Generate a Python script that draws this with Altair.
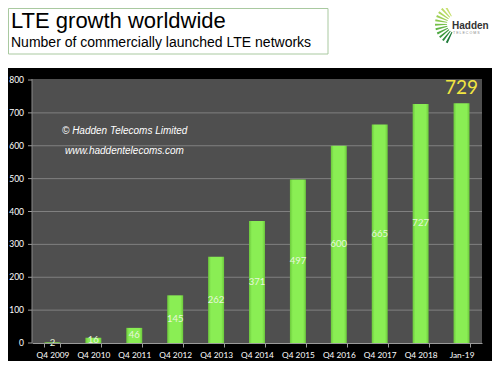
import altair as alt
import pandas as pd

categories = ["Q4 2009", "Q4 2010", "Q4 2011", "Q4 2012", "Q4 2013", "Q4 2014",
              "Q4 2015", "Q4 2016", "Q4 2017", "Q4 2018", "Jan-19"]
values = [2, 16, 46, 145, 262, 371, 497, 600, 665, 727, 729]
bar_labels = ["2", "16", "46", "145", "262", "371", "497", "600", "665", "727", ""]
yticks = [0, 100, 200, 300, 400, 500, 600, 700, 800]
grid_lines = [100, 200, 300, 400, 500, 600, 700]

title = "LTE growth worldwide"
subtitle = "Number of commercially launched LTE networks"
watermark1 = "© Hadden Telecoms Limited"
watermark2 = "www.haddentelecoms.com"

df = pd.DataFrame({"cat": categories, "v": values, "lab": bar_labels})
df["mid"] = df["v"] / 2
grid_df = pd.DataFrame({"g": grid_lines})
ytick_df = pd.DataFrame({"t": yticks})

one = alt.Data(values=[{"a": 1}])

xenc = alt.X("cat:N", sort=categories, title=None,
             scale=alt.Scale(paddingInner=0.61, paddingOuter=0.305),
             axis=alt.Axis(labelAngle=0, labelColor="white", labelFont="Lato",
                           labelFontSize=8.3, labelPadding=3, tickBand="extent",
                           tickColor="#9a9a9a", tickSize=4, domainColor="#9a9a9a",
                           zindex=1))
yscale = alt.Scale(domain=[0, 800], nice=False)

black = alt.Chart(one).mark_rect(color="black").encode(
    x=alt.value(-24), x2=alt.value(461), y=alt.value(-12), y2=alt.value(290))
gray = alt.Chart(one).mark_rect(color="#4f4f4f").encode(
    x=alt.value(0), x2=alt.value(450), y=alt.value(-1), y2=alt.value(263))

grid = alt.Chart(grid_df).mark_rule(color="#808080", strokeWidth=1).encode(
    x=alt.value(0), x2=alt.value(450),
    y=alt.Y("g:Q", scale=yscale, axis=None))

ydomain = alt.Chart(one).mark_rule(color="#8a8a8a", strokeWidth=1).encode(
    x=alt.value(0), y=alt.value(-1), y2=alt.value(263))
yticks_marks = alt.Chart(ytick_df).mark_rule(color="#9a9a9a", strokeWidth=1).encode(
    x=alt.value(-4), x2=alt.value(0),
    y=alt.Y("t:Q", scale=yscale, axis=None))
ylabels = alt.Chart(ytick_df).mark_text(color="white", font="Lato", fontSize=8.5,
                                        align="right", baseline="middle").encode(
    x=alt.value(-8),
    y=alt.Y("t:Q", scale=yscale, axis=None),
    text="t:Q")

grad = {"gradient": "linear", "x1": 0, "x2": 1, "y1": 0, "y2": 0,
        "stops": [{"offset": 0, "color": "#6cc83c"},
                  {"offset": 0.18, "color": "#8aee54"},
                  {"offset": 0.82, "color": "#8aee54"},
                  {"offset": 1, "color": "#6cc83c"}]}

bars = alt.Chart(df).mark_bar(color=grad).encode(
    x=xenc,
    y=alt.Y("v:Q", scale=yscale, axis=None))

labels = alt.Chart(df).mark_text(color="#e8f6de", font="Lato", fontSize=9.5,
                                 baseline="middle").encode(
    x=alt.X("cat:N", sort=categories),
    y=alt.Y("mid:Q", scale=yscale, axis=None),
    text="lab:N")

last = alt.Chart(df).transform_filter(alt.datum.cat == "Jan-19").mark_text(
    color="#f2e641", font="Lato", fontSize=19, baseline="bottom", dy=-5).encode(
    x=alt.X("cat:N", sort=categories),
    y=alt.Y("v:Q", scale=yscale, axis=None),
    text="v:Q")

wm1 = alt.Chart(one).mark_text(text=watermark1, color="white", fontStyle="italic",
                               font="Liberation Sans", fontSize=10, align="left",
                               baseline="alphabetic").encode(
    x=alt.value(30), y=alt.value(54))
wm2 = alt.Chart(one).mark_text(text=watermark2, color="white", fontStyle="italic",
                               font="Liberation Sans", fontSize=10, align="left",
                               baseline="alphabetic").encode(
    x=alt.value(33), y=alt.value(74))

tbox = alt.Chart(one).mark_rect(fill="white", stroke="#a9c9a0", strokeWidth=1).encode(
    x=alt.value(-23.5), x2=alt.value(296), y=alt.value(-71.5), y2=alt.value(-26))
t1 = alt.Chart(one).mark_text(text=title, color="black", font="Liberation Sans",
                              fontSize=22, align="left", baseline="alphabetic").encode(
    x=alt.value(-21), y=alt.value(-52))
t2 = alt.Chart(one).mark_text(text=subtitle, color="black", font="Liberation Sans",
                              fontSize=14, align="left", baseline="alphabetic").encode(
    x=alt.value(-21), y=alt.value(-33))

# logo
logo_layers = []
greens = ["#1f7a3a", "#2d8a3c", "#3c9a3e", "#4ea842", "#62b546", "#76c04a",
          "#8ac84e", "#9ccf55", "#aed65c", "#bcdc66", "#c8e070"]
t0 = 3.55
for i, c in enumerate(greens):
    th = t0 + i * 0.215
    logo_layers.append(
        alt.Chart(one).mark_arc(color=c, radius=21, radius2=9, theta=th,
                                theta2=th + 0.1).encode(
            x=alt.value(424), y=alt.value(-56)))
hd = alt.Chart(one).mark_text(text="Hadden", color="#333333", font="Liberation Sans",
                              fontWeight="bold", fontSize=10, align="left",
                              baseline="alphabetic").encode(
    x=alt.value(420), y=alt.value(-51))
tel = alt.Chart(one).mark_text(text="T E L E C O M S", color="#8a8a8a",
                               font="Liberation Sans", fontSize=3.6, align="left",
                               baseline="alphabetic").encode(
    x=alt.value(421), y=alt.value(-46))

chart = alt.layer(black, gray, grid, ydomain, yticks_marks, ylabels, bars, labels,
                  last, wm1, wm2, tbox, t1, t2, *logo_layers, hd, tel).properties(
    width=450, height=263,
    autosize=alt.AutoSizeParams(type="none"),
    padding={"left": 24, "top": 72, "right": 10, "bottom": 18},
    background="white",
).configure_view(stroke=None)

chart.save("out.html", embed_options={"renderer": "svg", "actions": False})
